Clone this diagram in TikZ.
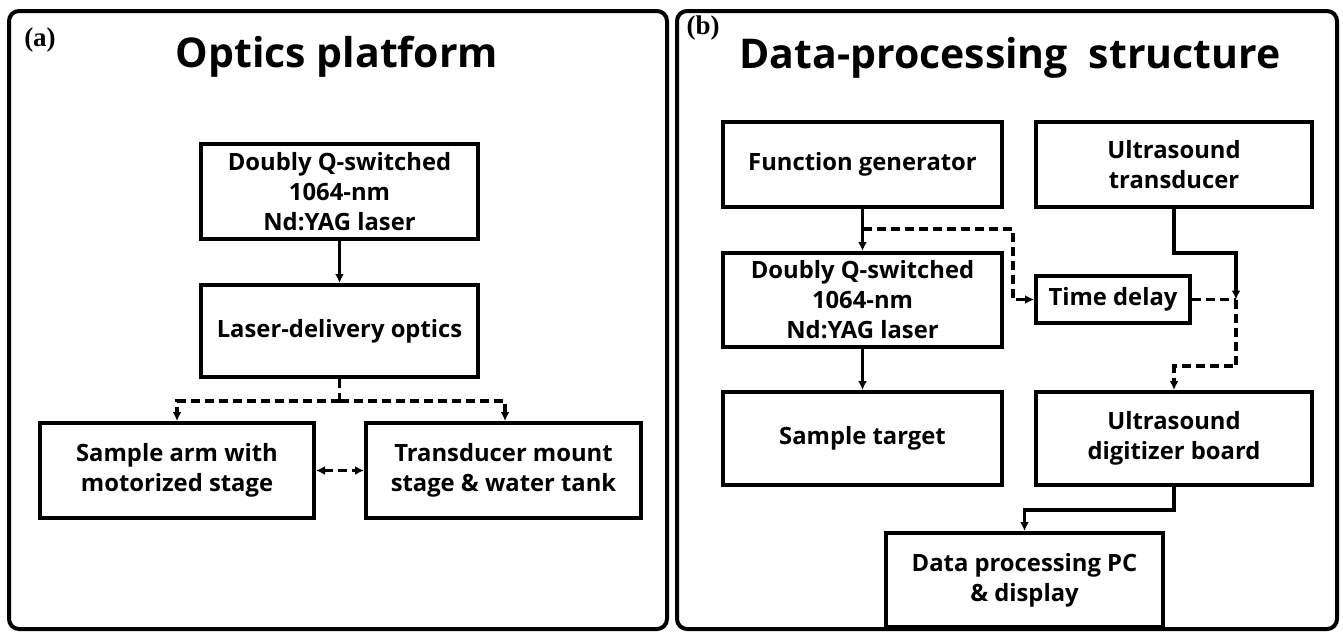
\documentclass[tikz,border=0pt]{standalone}
\usepackage{fontspec}
\setmainfont{Open Sans}
\newfontfamily\labfont{Liberation Serif}
\usetikzlibrary{arrows.meta}
\begin{document}
\begin{tikzpicture}[x=1pt,y=-1pt,
  frame/.style={draw, line width=4pt, rounded corners=10pt},
  blk/.style={draw, line width=4pt, inner sep=0pt, align=center,
    font=\fontsize{23.8}{30}\selectfont\bfseries},
  ttl/.style={font=\fontsize{41}{46}\selectfont\bfseries},
  plab/.style={font=\labfont\fontsize{27}{30}\selectfont\bfseries},
  conn/.style={line width=3.1pt, -{Latex[length=9pt,width=9pt]}},
  dconn/.style={conn, dash pattern=on 9pt off 5pt},
  dline/.style={line width=3.1pt, dash pattern=on 9pt off 5pt},
]
\useasboundingbox (0,0) rectangle (1343,632);
% frames
\draw[frame] (9,11) rectangle (667,629);
\draw[frame] (677,11) rectangle (1337,629);
\node[plab] (la) at (40,40) {(a)};
\node[plab] (lb) at (703,28) {(b)};
\node[ttl] (ta) at (337,57) {Optics platform};
\node[ttl] (tb) at (1010,58) {Data-processing\hspace{0.25em} structure};

% panel (a)
\node[blk, minimum width=277pt, minimum height=95pt] (a1) at (339.5,191.5)
  {Doubly Q-switched\\1064-nm\\Nd:YAG laser};
\node[blk, minimum width=277pt, minimum height=92pt] (a2) at (339.5,331)
  {Laser-delivery optics};
\node[blk, minimum width=274pt, minimum height=95pt] (a3) at (177,470.5)
  {Sample arm with\\motorized stage};
\node[blk, minimum width=275pt, minimum height=95pt] (a4) at (503.5,470.5)
  {Transducer mount\\stage \& water tank};

\draw[conn] (a1.south) -- (a2.north);
\coordinate (asplit) at (339.5,401);
\coordinate (aL) at (177,401);
\coordinate (aR) at (505,401);
\draw[dline] (a2.south) -- (asplit);
\draw[dconn] (asplit) -- (aL) -- (aL |- a3.north);
\draw[dconn] (asplit) -- (aR) -- (aR |- a4.north);
\draw[dconn, {Latex[length=9pt,width=9pt]}-{Latex[length=9pt,width=9pt]}] (a3.east) -- (a4.west);

% panel (b)
\node[blk, minimum width=279pt, minimum height=85pt] (b1) at (862.5,164.5)
  {Function generator};
\node[blk, minimum width=276pt, minimum height=85pt] (b2) at (1174,164.5)
  {Ultrasound\\transducer};
\node[blk, minimum width=279pt, minimum height=94pt] (b3) at (862.5,300)
  {Doubly Q-switched\\1064-nm\\Nd:YAG laser};
\node[blk, minimum width=154pt, minimum height=47pt] (b4) at (1113,299.5)
  {Time delay};
\node[blk, minimum width=279pt, minimum height=93pt] (b5) at (862.5,438.5)
  {Sample target};
\node[blk, minimum width=276pt, minimum height=93pt] (b6) at (1174,438.5)
  {Ultrasound\\digitizer board};
\node[blk, minimum width=277pt, minimum height=94pt] (b7) at (1024.5,580)
  {Data processing PC\\\& display};

\draw[conn] (b1.south) -- (b3.north);
\coordinate (bsplit) at (862.5,229);
\coordinate (bturn) at (1013,229);
\draw[dconn] (bsplit) -- (bturn) -- (bturn |- b4.west) -- (b4.west);

\coordinate (btr1) at (1174,253);
\coordinate (btr2) at (1236,253);
\coordinate (bjoin) at (1236,299.5);
\draw[conn] (b2.south) -- (btr1) -- (btr2) -- (bjoin);
\draw[dline] (b4.east) -- (bjoin);
\coordinate (bd1) at (1236,366);
\coordinate (bd2) at (1174,366);
\draw[dconn] (bjoin) -- (bd1) -- (bd2) -- (b6.north);

\draw[conn] (b3.south) -- (b5.north);

\coordinate (bo1) at (1174,510);
\coordinate (bo2) at (1024.5,510);
\draw[conn] (b6.south) -- (bo1) -- (bo2) -- (b7.north);
\end{tikzpicture}
\end{document}
